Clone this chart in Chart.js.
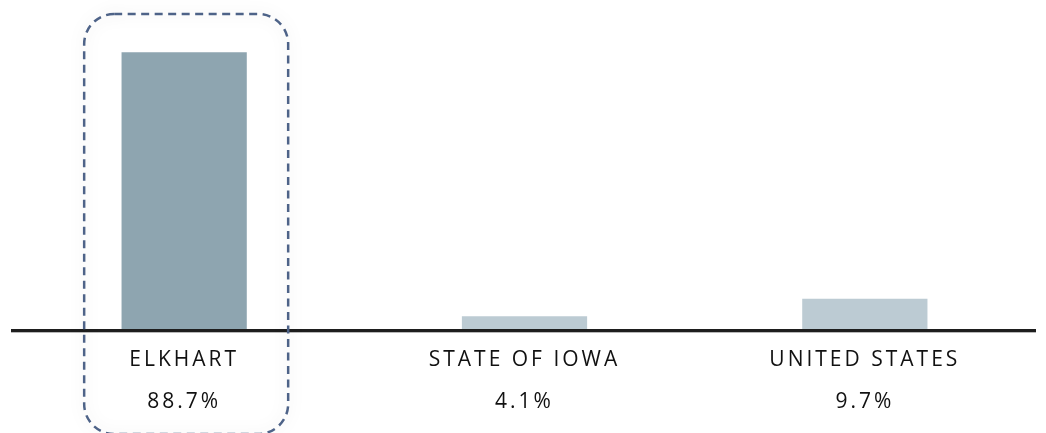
<!DOCTYPE html>
<html>
<head>
<meta charset="utf-8">
<script src="https://cdn.jsdelivr.net/npm/chart.js@4/dist/chart.umd.min.js"></script>
<style>
  html, body { margin: 0; padding: 0; background: #ffffff; }
  #wrap { width: 1046px; height: 433px; position: relative; }
</style>
</head>
<body>
<div id="wrap"><canvas id="c"></canvas></div>
<script>
const categories = ['ELKHART', 'STATE OF IOWA', 'UNITED STATES'];
const values = [88.7, 4.1, 9.7];
const barColors = ['#8ea5b0', '#bccbd3', '#bccbd3'];
const highlightIndex = 0;

const labels = categories.map((c, i) => [c, values[i].toFixed(1) + '%']);

const spacingPlugin = {
  id: 'spacing',
  beforeDraw(chart) { chart.ctx.letterSpacing = '3px'; },
  afterDraw(chart) { chart.ctx.letterSpacing = '0px'; }
};

const axisLinePlugin = {
  id: 'axisLine',
  afterDatasetsDraw(chart) {
    const ctx = chart.ctx;
    const a = chart.chartArea;
    ctx.save();
    ctx.fillStyle = '#1e1e1e';
    ctx.fillRect(a.left - 3, a.bottom, (a.right - a.left) + 4, 3);
    ctx.fillStyle = '#b8b8b8';
    ctx.fillRect(a.left - 3, a.bottom + 3, (a.right - a.left) + 4, 1);
    ctx.restore();
  }
};

const highlightPlugin = {
  id: 'highlight',
  afterDraw(chart) {
    const ctx = chart.ctx;
    const xs = chart.scales.x;
    const cx = xs.getPixelForValue(highlightIndex) + 2;
    const half = 102;
    const x = cx - half, y = 14, w = half * 2, h = 420, r = 30;
    ctx.save();
    ctx.letterSpacing = '0px';
    ctx.shadowColor = 'rgba(0,0,0,0.18)';
    ctx.shadowBlur = 16;
    ctx.strokeStyle = '#4e6388';
    ctx.lineWidth = 2.5;
    ctx.setLineDash([8, 5.5]);
    ctx.beginPath();
    ctx.roundRect(x, y, w, h, r);
    ctx.stroke();
    ctx.restore();
  }
};

new Chart(document.getElementById('c'), {
  type: 'bar',
  data: {
    labels: labels,
    datasets: [{
      data: values,
      backgroundColor: barColors,
      borderWidth: 0,
      categoryPercentage: 1,
      barPercentage: 0.368
    }]
  },
  options: {
    responsive: true,
    maintainAspectRatio: false,
    animation: false,
    layout: { padding: { left: 14, right: 11, top: 17, bottom: 0 } },
    plugins: { legend: { display: false }, tooltip: { enabled: false } },
    scales: {
      y: { display: false, min: 0, max: 100 },
      x: {
        afterFit(s) { s.height = 104; },
        grid: { display: false, drawTicks: false },
        border: { display: false },
        ticks: {
          color: '#111111',
          padding: 10,
          font: { family: '"Open Sans", "Noto Sans", sans-serif', size: 21, lineHeight: 2.0 },
          maxRotation: 0,
          autoSkip: false
        }
      }
    }
  },
  plugins: [spacingPlugin, axisLinePlugin, highlightPlugin]
});
</script>
</body>
</html>
